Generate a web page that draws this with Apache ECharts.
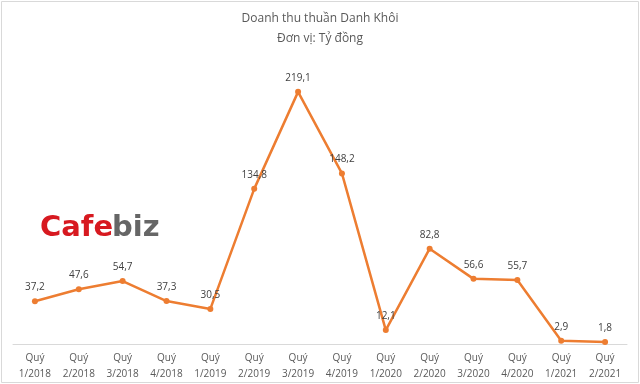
<!DOCTYPE html>
<html><head><meta charset="utf-8">
<script src="https://cdn.jsdelivr.net/npm/echarts@6/dist/echarts.min.js"></script>
<style>html,body{margin:0;padding:0;background:#fff}#c{width:640px;height:384px}</style>
</head><body><div id="c"></div>
<script>
const categories = ["Quý\n1/2018","Quý\n2/2018","Quý\n3/2018","Quý\n4/2018","Quý\n1/2019","Quý\n2/2019","Quý\n3/2019","Quý\n4/2019","Quý\n1/2020","Quý\n2/2020","Quý\n3/2020","Quý\n4/2020","Quý\n1/2021","Quý\n2/2021"];
const revenue = [37.2,47.6,54.7,37.3,30.5,134.8,219.1,148.2,12.1,82.8,56.6,55.7,2.9,1.8];
const titleText = "Doanh thu thuần Danh Khôi\nĐơn vị: Tỷ đồng";
const chart = echarts.init(document.getElementById('c'));
chart.setOption({
  animation:false,
  title:{text:titleText,left:'center',top:4,textStyle:{fontFamily:'Open Sans',fontSize:12,fontWeight:'normal',color:'#595959',lineHeight:20}},
  grid:{left:13,right:13,top:54,bottom:40},
  xAxis:{type:'category',data:categories,boundaryGap:true,
    axisLine:{lineStyle:{color:'#d9d9d9'}},axisTick:{show:false},
    axisLabel:{color:'#595959',fontFamily:'Open Sans',fontSize:10,lineHeight:16,margin:6,interval:0}},
  yAxis:{type:'value',min:0,max:252,show:false,splitLine:{show:false}},
  graphic:[
    {type:'rect',shape:{x:1.5,y:1.5,width:637,height:381},style:{fill:'none',stroke:'#d9d9d9',lineWidth:1},silent:true},
    {type:'text',left:40,top:214,style:{text:'Cafe',fill:'#d71920',font:'bold 29px "DejaVu Sans"'}},
    {type:'text',left:112,top:214,style:{text:'biz',fill:'#666666',font:'bold 29px "DejaVu Sans"'}}
  ],
  series:[{type:'line',data:revenue,symbol:'circle',symbolSize:6,
    lineStyle:{color:'#ED7D31',width:2.5},itemStyle:{color:'#ED7D31'},
    label:{show:true,position:'top',distance:6,color:'#404040',fontFamily:'Open Sans',fontSize:10,
      formatter:p=>String(p.value).replace('.',',')}}]
});
</script></body></html>
